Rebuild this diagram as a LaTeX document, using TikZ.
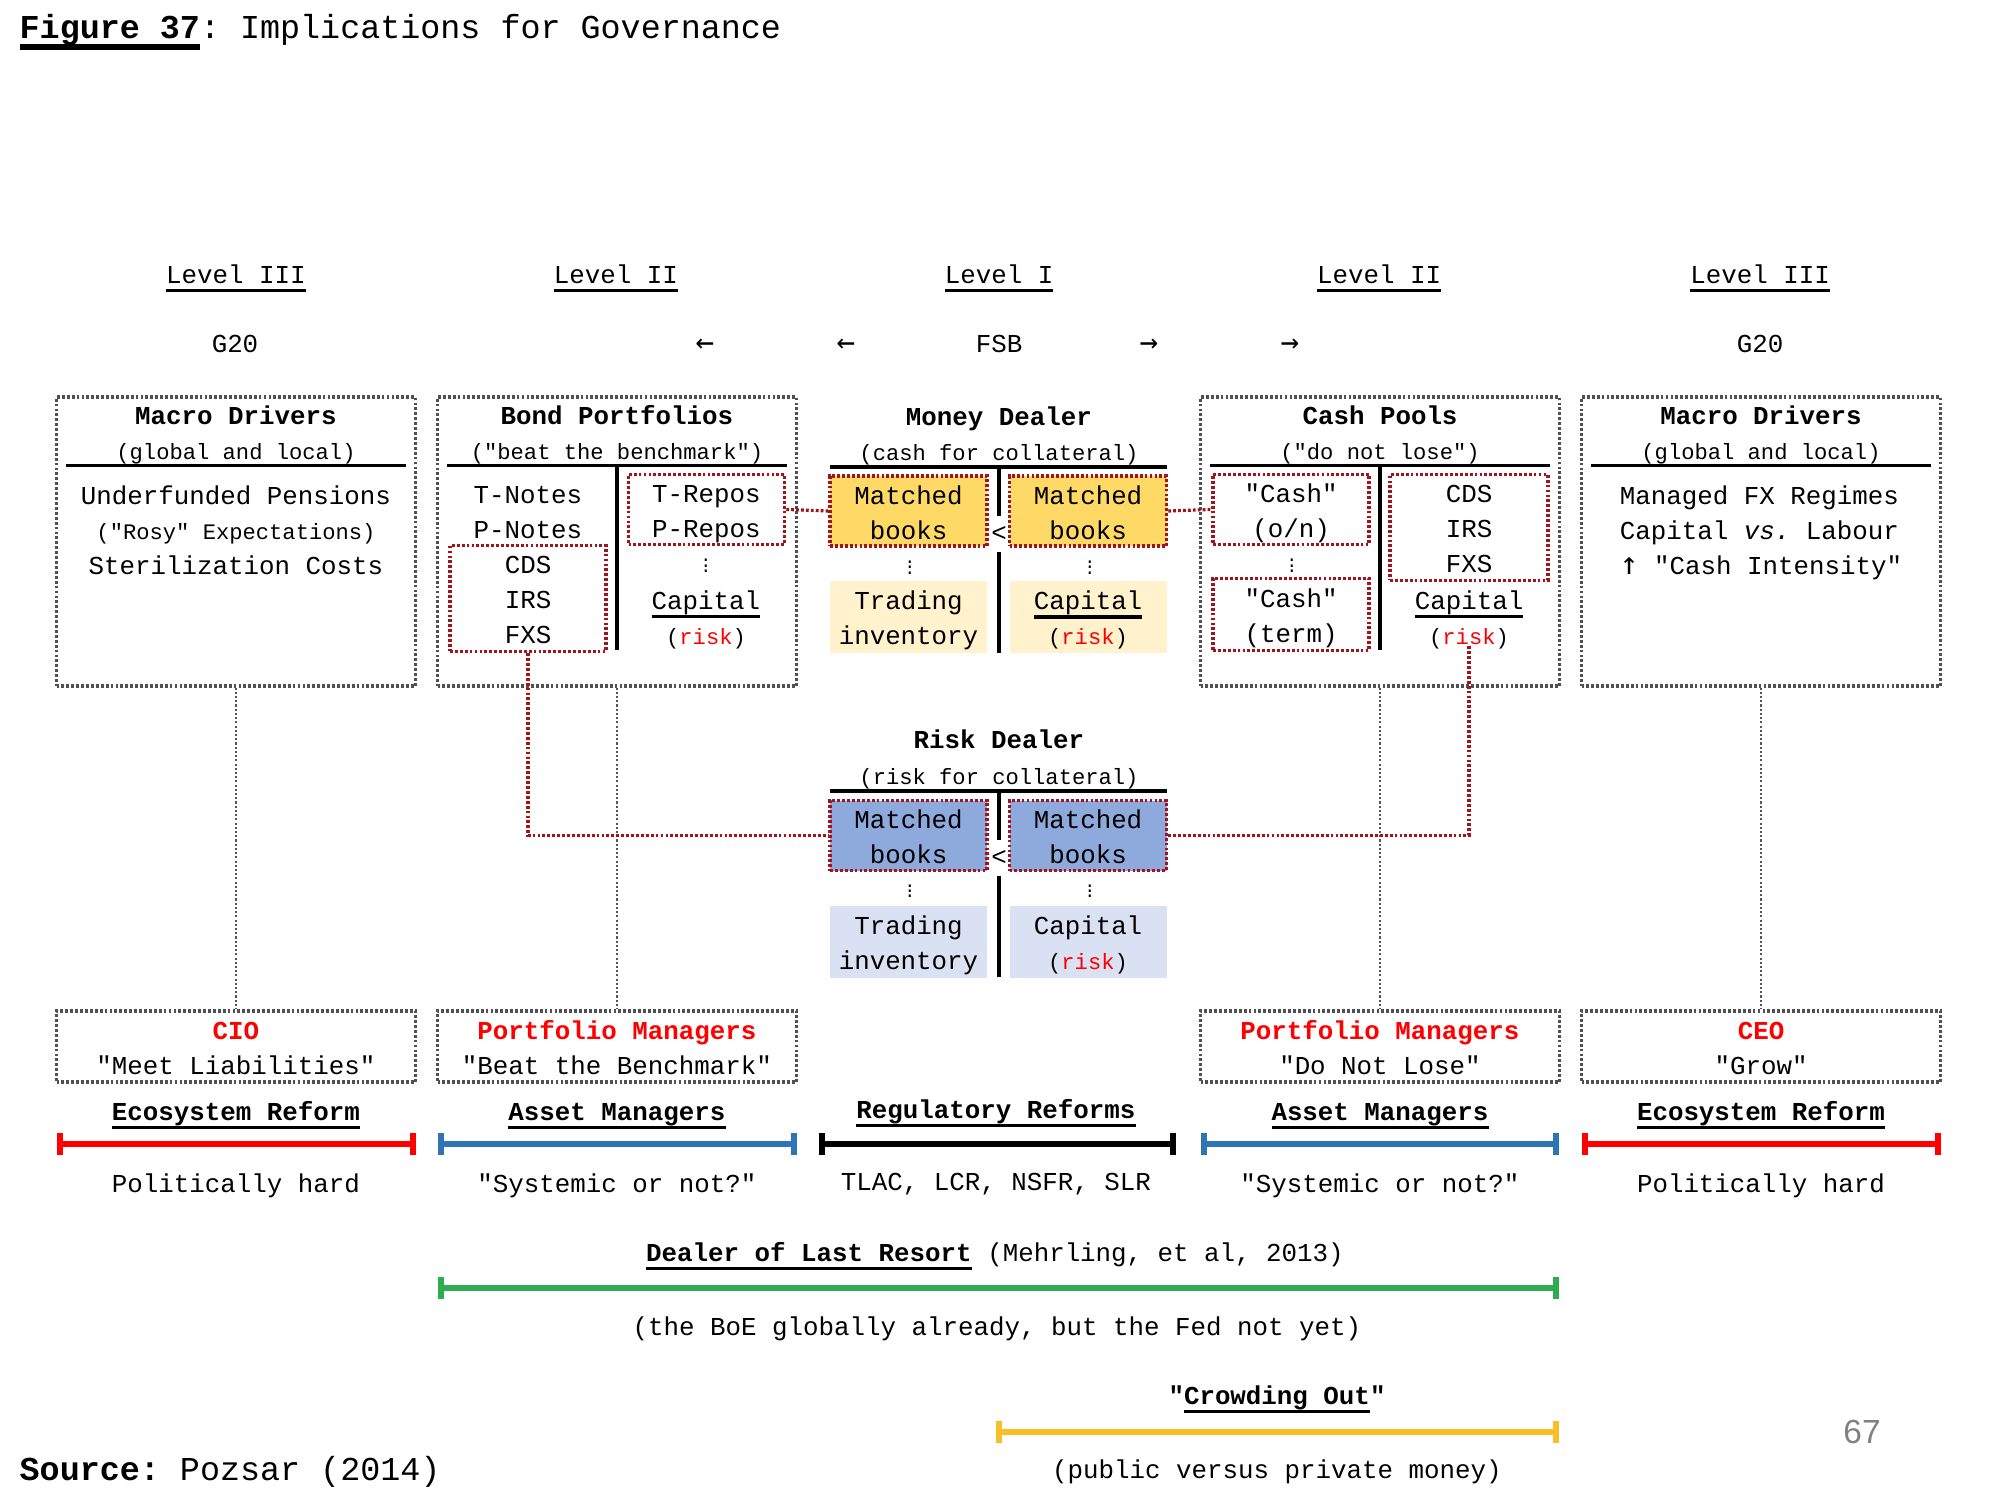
\documentclass[tikz,border=0pt]{standalone}
\usepackage{fontspec}
\setmonofont{Liberation Mono}
\renewcommand{\familydefault}{\ttdefault}
\newfontfamily\arrowFont{DejaVu Sans Mono}
\newfontfamily\pageNumFont{Liberation Sans}
\usetikzlibrary{arrows.meta, positioning, calc}

\definecolor{cBoxDraw}{RGB}{80, 80, 80}
\definecolor{cFeed}{RGB}{85, 85, 85}
\definecolor{cLink}{RGB}{160, 20, 30}
\definecolor{cMoneyDark}{RGB}{255, 217, 102}
\definecolor{cMoneyLight}{RGB}{255, 242, 204}
\definecolor{cRiskDark}{RGB}{142, 169, 219}
\definecolor{cRiskLight}{RGB}{217, 225, 242}
\definecolor{cRole}{RGB}{255, 0, 0}
\definecolor{cAsset}{RGB}{46, 117, 182}
\definecolor{cResort}{RGB}{46, 172, 82}
\definecolor{cCrowd}{RGB}{250, 190, 40}
\definecolor{cPageNum}{RGB}{128, 128, 128}

\newcommand{\fsBase}{\fontsize{7.35}{9.95}\selectfont}
\newcommand{\fsSmall}{\fontsize{6.3}{9.95}\selectfont}
\newcommand{\fsBig}{\fontsize{9.5}{12}\selectfont}
\newcommand{\fsArrow}{\arrowFont\fontsize{8.8}{9.95}\selectfont}
\newsavebox{\ulBox}
\newcommand{\ulText}[2][0.9pt]{\sbox{\ulBox}{#2}\rlap{\rule[\dimexpr-1.6pt-#1\relax]{\wd\ulBox}{#1}}\usebox{\ulBox}}
\newcommand{\colDots}{{\fontsize{5}{5}\selectfont\vbox{\baselineskip1.5pt\lineskiplimit0pt\lineskip0pt\hbox{.}\hbox{.}\hbox{.}}}}
\newcommand{\riskTag}{{\fsSmall(\textcolor{cRole}{risk})}}

\tikzset{
    font=\fsBase,
    % --- text ---
    textLines/.style={
        align=center, inner sep=0pt,
        execute at begin node=\strut,
        execute at end node=\strut
    },
    twoLines/.style={ textLines, text height=18pt, text depth=1.9pt },
    threeLines/.style={ textLines, text height=27.85pt, text depth=2.2pt },
    headText/.style={ textLines, font=\fsBase\bfseries },
    subText/.style={ textLines, font=\fsSmall },
    dotsMark/.style={ inner sep=0pt },
    %
    % --- boxes ---
    groupBox/.style={
        rectangle, draw=cBoxDraw, dash pattern=on 0.8pt off 0.6pt,
        line width=0.9pt, inner sep=0pt,
        minimum width=3.59cm, minimum height=2.89cm
    },
    roleBox/.style={ groupBox, twoLines, minimum height=0.71cm },
    linkBox/.style={
        rectangle, twoLines, draw=cLink, dash pattern=on 0.8pt off 0.6pt,
        line width=1pt, minimum width=1.56cm, minimum height=0.70cm
    },
    bookBox/.style={ linkBox, minimum width=1.57cm },
    shadeBox/.style={ rectangle, twoLines, minimum width=1.57cm, minimum height=0.72cm },
    %
    % --- lines ---
    ruleLine/.style={ line width=0.9pt },
    feedLine/.style={ draw=cFeed, dash pattern=on 0.6pt off 0.6pt, line width=0.8pt },
    redLink/.style={ draw=cLink, dash pattern=on 0.8pt off 0.6pt, line width=0.9pt },
    spanBar/.style={ line width=1.6pt, {Bar[width=2.2mm]}-{Bar[width=2.2mm]} }
}

\begin{document}
\begin{tikzpicture}
	\useasboundingbox (0,0) rectangle (20,-15);

	% =========================================
	% 1. Title and levels
	% =========================================

	\node[anchor=base west, inner sep=0pt, font=\fsBig] (figTitle) at (0.19,-0.38)
		{\ulText[1.8pt]{\bfseries Figure 37}: Implications for Governance};

	\node[textLines] (lvlThreeL) at (2.36,-2.76) {\ulText{Level III}};
	\node[textLines] (lvlTwoL) at (6.16,-2.76) {\ulText{Level II}};
	\node[textLines] (lvlOne) at (9.99,-2.76) {\ulText{Level I}};
	\node[textLines] (lvlTwoR) at (13.79,-2.76) {\ulText{Level II}};
	\node[textLines] (lvlThreeR) at (17.60,-2.76) {\ulText{Level III}};

	\node[textLines] (gTwentyL) at (2.35,-3.45) {G20};
	\node[textLines] (leftOuter) at (7.05,-3.45) {\fsArrow ←};
	\node[textLines] (leftInner) at (8.46,-3.45) {\fsArrow ←};
	\node[textLines] (fsb) at (9.99,-3.45) {FSB};
	\node[textLines] (rightInner) at (11.49,-3.45) {\fsArrow →};
	\node[textLines] (rightOuter) at (12.90,-3.45) {\fsArrow →};
	\node[textLines] (gTwentyR) at (17.60,-3.45) {G20};

	% =========================================
	% 2. Level III / II boxes
	% =========================================

	\node[groupBox] (macroL) at (2.36,-5.415) {};
	\node[groupBox] (bond) at (6.17,-5.415) {};
	\node[groupBox] (cash) at (13.80,-5.415) {};
	\node[groupBox] (macroR) at (17.61,-5.415) {};

	% --- Macro Drivers (left) ---
	\node[headText, below=0.04cm of macroL.north] (macroLHead) {Macro Drivers};
	\node[subText, below=-0.015cm of macroLHead] (macroLSub) {(global and local)};
	\draw[ruleLine] ($(macroL.north west)+(0.11,-0.70)$) -- ($(macroL.north east)+(-0.11,-0.70)$);
	\node[textLines] (macroLText) at ($(macroL.north)+(0,-1.395)$)
		{Underfunded Pensions\\{\fsSmall("Rosy" Expectations)}\\Sterilization Costs};

	% --- Bond Portfolios ---
	\node[headText, below=0.04cm of bond.north] (bondHead) {Bond Portfolios};
	\node[subText, below=-0.015cm of bondHead] (bondSub) {("beat the benchmark")};
	\draw[ruleLine] ($(bond.north west)+(0.11,-0.70)$) -- ($(bond.north east)+(-0.11,-0.70)$);
	\draw[ruleLine] ($(bond.north)+(0,-0.70)$) -- ($(bond.north)+(0,-2.55)$);
	\node[textLines] (bondNotes) at ($(bond.north)+(-0.89,-1.22)$) {T-Notes\\P-Notes};
	\node[linkBox, threeLines, minimum height=1.06cm] (bondDeriv) at ($(bond.north)+(-0.89,-2.03)$) {CDS\\IRS\\FXS};
	\node[linkBox] (bondRepo) at ($(bond.north)+(0.895,-1.14)$) {T-Repos\\P-Repos};
	\node[dotsMark] (bondDots) at ($(bond.north)+(0.89,-1.705)$) {\colDots};
	\node[textLines] (bondRisk) at ($(bond.north)+(0.89,-2.27)$) {\ulText{Capital}\\\riskTag};

	% --- Cash Pools ---
	\node[headText, below=0.04cm of cash.north] (cashHead) {Cash Pools};
	\node[subText, below=-0.015cm of cashHead] (cashSub) {("do not lose")};
	\draw[ruleLine] ($(cash.north west)+(0.11,-0.70)$) -- ($(cash.north east)+(-0.11,-0.70)$);
	\draw[ruleLine] ($(cash.north)+(0,-0.70)$) -- ($(cash.north)+(0,-2.55)$);
	\node[linkBox] (cashON) at ($(cash.north)+(-0.89,-1.14)$) {"Cash"\\(o/n)};
	\node[dotsMark] (cashDots) at ($(cash.north)+(-0.88,-1.705)$) {\colDots};
	\node[linkBox, minimum height=0.72cm] (cashTerm) at ($(cash.north)+(-0.89,-2.19)$) {"Cash"\\(term)};
	\node[linkBox, threeLines, minimum width=1.58cm, minimum height=1.06cm] (cashDeriv) at ($(cash.north)+(0.89,-1.32)$) {CDS\\IRS\\FXS};
	\node[textLines] (cashRisk) at ($(cash.north)+(0.89,-2.27)$) {\ulText{Capital}\\\riskTag};

	% --- Macro Drivers (right) ---
	\node[headText, below=0.04cm of macroR.north] (macroRHead) {Macro Drivers};
	\node[subText, below=-0.015cm of macroRHead] (macroRSub) {(global and local)};
	\draw[ruleLine] ($(macroR.north west)+(0.11,-0.70)$) -- ($(macroR.north east)+(-0.11,-0.70)$);
	\node[textLines, align=left] (macroRText) at ($(macroR.north)+(0,-1.395)$)
		{Managed FX Regimes\\Capital \textit{vs.} Labour\\{\fsArrow ↑} "Cash Intensity"};

	% =========================================
	% 3. Level I dealers
	% =========================================

	% --- Money Dealer ---
	\coordinate (mdTop) at (9.99,-3.97);
	\node[headText] (mdHead) at ($(mdTop)+(0,-0.215)$) {Money Dealer};
	\node[subText, below=-0.015cm of mdHead] (mdSub) {(cash for collateral)};
	\draw[ruleLine] ($(mdTop)+(-1.69,-0.70)$) -- ($(mdTop)+(1.68,-0.70)$);
	\node[bookBox, fill=cMoneyDark] (mdBookL) at ($(mdTop)+(-0.905,-1.14)$) {Matched\\books};
	\node[bookBox, fill=cMoneyDark] (mdBookR) at ($(mdTop)+(0.89,-1.14)$) {Matched\\books};
	\node[textLines] (mdLess) at ($(mdTop)+(0,-1.37)$) {<};
	\node[dotsMark] (mdDotsL) at ($(mdTop)+(-0.89,-1.705)$) {\colDots};
	\node[dotsMark] (mdDotsR) at ($(mdTop)+(0.91,-1.705)$) {\colDots};
	\node[shadeBox, fill=cMoneyLight] (mdTrade) at ($(mdTop)+(-0.905,-2.195)$) {Trading\\inventory};
	\node[shadeBox, fill=cMoneyLight] (mdCapital) at ($(mdTop)+(0.89,-2.195)$) {\ulText{Capital}\\\riskTag};
	\draw[ruleLine] ($(mdTop)+(0,-0.70)$) -- (mdLess.north);
	\draw[ruleLine] (mdLess.south) -- ($(mdTop)+(0,-2.56)$);

	% --- Risk Dealer ---
	\coordinate (rdTop) at (9.99,-7.21);
	\node[headText] (rdHead) at ($(rdTop)+(0,-0.205)$) {Risk Dealer};
	\node[subText, below=-0.005cm of rdHead] (rdSub) {(risk for collateral)};
	\draw[ruleLine] ($(rdTop)+(-1.69,-0.70)$) -- ($(rdTop)+(1.68,-0.70)$);
	\node[bookBox, fill=cRiskDark] (rdBookL) at ($(rdTop)+(-0.905,-1.145)$) {Matched\\books};
	\node[bookBox, fill=cRiskDark] (rdBookR) at ($(rdTop)+(0.89,-1.145)$) {Matched\\books};
	\node[textLines] (rdLess) at ($(rdTop)+(0,-1.37)$) {<};
	\node[dotsMark] (rdDotsL) at ($(rdTop)+(-0.89,-1.70)$) {\colDots};
	\node[dotsMark] (rdDotsR) at ($(rdTop)+(0.91,-1.70)$) {\colDots};
	\node[shadeBox, fill=cRiskLight] (rdTrade) at ($(rdTop)+(-0.905,-2.205)$) {Trading\\inventory};
	\node[shadeBox, fill=cRiskLight] (rdCapital) at ($(rdTop)+(0.89,-2.205)$) {Capital\\\riskTag};
	\draw[ruleLine] ($(rdTop)+(0,-0.70)$) -- (rdLess.north);
	\draw[ruleLine] (rdLess.south) -- ($(rdTop)+(0,-2.56)$);

	% =========================================
	% 4. Owners
	% =========================================

	\node[roleBox] (cio) at (2.36,-10.465) {{\color{cRole}\bfseries CIO}\\"Meet Liabilities"};
	\node[roleBox] (pmBeat) at (6.17,-10.465) {{\color{cRole}\bfseries Portfolio Managers}\\"Beat the Benchmark"};
	\node[roleBox] (pmLose) at (13.80,-10.465) {{\color{cRole}\bfseries Portfolio Managers}\\"Do Not Lose"};
	\node[roleBox] (ceo) at (17.61,-10.465) {{\color{cRole}\bfseries CEO}\\"Grow"};

	% --- feeds ---
	\draw[feedLine] (macroL.south) -- (cio.north);
	\draw[feedLine] (bond.south) -- (pmBeat.north);
	\draw[feedLine] (cash.south) -- (pmLose.north);
	\draw[feedLine] (macroR.south) -- (ceo.north);

	% --- collateral links ---
	\draw[redLink] (bondRepo.east) -- (mdBookL.west);
	\draw[redLink] (mdBookR.east) -- (cashON.west);
	\draw[redLink] (bondDeriv.south) |- (rdBookL.west);
	\draw[redLink] (rdBookR.east) -| ($(cashRisk.south)+(0,0.10)$);

	% =========================================
	% 5. Reforms
	% =========================================

	\node[headText, below=0.115cm of cio] (ecoL) {\ulText{Ecosystem Reform}};
	\node[headText, below=0.115cm of pmBeat] (assetL) {\ulText{Asset Managers}};
	\node[headText] (regul) at (9.96,-11.11) {\ulText{Regulatory Reforms}};
	\node[headText, below=0.115cm of pmLose] (assetR) {\ulText{Asset Managers}};
	\node[headText, below=0.115cm of ceo] (ecoR) {\ulText{Ecosystem Reform}};

	\draw[spanBar, cRole] (0.57,-11.44) -- (4.16,-11.44);
	\draw[spanBar, cAsset] (4.38,-11.44) -- (7.97,-11.44);
	\draw[spanBar, black] (8.19,-11.44) -- (11.76,-11.44);
	\draw[spanBar, cAsset] (12.01,-11.44) -- (15.59,-11.44);
	\draw[spanBar, cRole] (15.82,-11.44) -- (19.41,-11.44);

	\node[textLines, below=0.36cm of ecoL] (hardL) {Politically hard};
	\node[textLines, below=0.36cm of assetL] (systL) {"Systemic or not?"};
	\node[textLines, below=0.36cm of regul] (ratios) {TLAC, LCR, NSFR, SLR};
	\node[textLines, below=0.36cm of assetR] (systR) {"Systemic or not?"};
	\node[textLines, below=0.36cm of ecoR] (hardR) {Politically hard};

	% --- Dealer of last resort ---
	\node[textLines] (lastResort) at (9.95,-12.545)
		{\ulText{\bfseries Dealer of Last Resort} (Mehrling, et al, 2013)};
	\draw[spanBar, cResort] (4.38,-12.88) -- (15.59,-12.88);
	\node[textLines] (boeNote) at (9.97,-13.28) {(the BoE globally already, but the Fed not yet)};

	% --- Crowding out ---
	\node[textLines] (crowd) at (12.77,-13.97) {{\bfseries "\ulText{Crowding Out}"}};
	\draw[spanBar, cCrowd] (9.96,-14.32) -- (15.59,-14.32);
	\node[textLines] (crowdNote) at (12.77,-14.71) {(public versus private money)};

	% =========================================
	% 6. Footer
	% =========================================

	\node[anchor=base west, inner sep=0pt, font=\fsBig] (source) at (0.19,-14.80)
		{\textbf{Source:} Pozsar (2014)};
	\node[anchor=base, inner sep=0pt, text=cPageNum, font=\pageNumFont\fontsize{9.5}{11}\selectfont] (pageNum) at (18.62,-14.43) {67};

\end{tikzpicture}
\end{document}
